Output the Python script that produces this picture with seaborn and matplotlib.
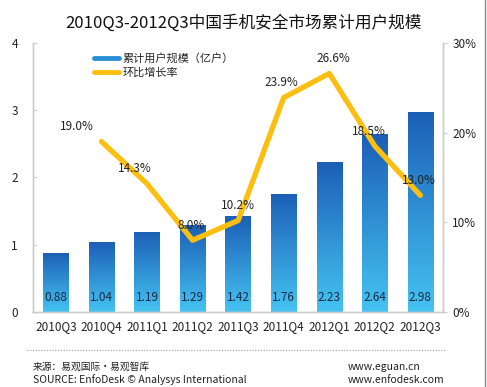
import numpy as np
import pandas as pd
import matplotlib
matplotlib.use("Agg")
import matplotlib.pyplot as plt
import seaborn as sns
from matplotlib.colors import LinearSegmentedColormap
from matplotlib.lines import Line2D

sns.set_style("white")
plt.rcParams['font.family'] = ['Noto Sans CJK SC', 'DejaVu Sans']

quarters = ["2010Q3", "2010Q4", "2011Q1", "2011Q2", "2011Q3",
            "2011Q4", "2012Q1", "2012Q2", "2012Q3"]
users = [0.88, 1.04, 1.19, 1.29, 1.42, 1.76, 2.23, 2.64, 2.98]
growth = [np.nan, 19.0, 14.3, 8.0, 10.2, 23.9, 26.6, 18.5, 13.0]

df = pd.DataFrame({"quarter": quarters, "users": users, "growth": growth})

fig = plt.figure(figsize=(4.87, 3.87), dpi=100)
ax = fig.add_axes([0.068, 0.194, 0.842, 0.695])

sns.barplot(data=df, x="quarter", y="users", ax=ax, width=0.56, color="#2a8fd8")

# gradient fill for bars
cmap = LinearSegmentedColormap.from_list("bl", ["#45c3f2", "#1c5fb6"])
grad = np.linspace(0, 1, 256).reshape(-1, 1)
for p in ax.patches:
    x0, y0 = p.get_x(), p.get_y()
    w, h = p.get_width(), p.get_height()
    p.set_facecolor("none")
    p.set_edgecolor("none")
    im = ax.imshow(grad, extent=[x0, x0 + w, y0, y0 + h], origin="lower",
                   cmap=cmap, aspect="auto", zorder=2)
    im.set_clip_path(p)

for i, v in enumerate(users):
    ax.text(i, 0.22, f"{v:.2f}", ha="center", va="center", fontsize=8.5,
            color="#1a2a44", zorder=4)

ax.set_xlim(-0.5, len(quarters) - 0.5)
ax.set_ylim(0, 4)
ax.set_yticks([0, 1, 2, 3, 4])
ax.set_xlabel("")
ax.set_ylabel("")
ax.tick_params(axis="x", length=0, labelsize=8.5, pad=6, colors="#222222")
ax.tick_params(axis="y", length=3, direction="in", labelsize=8.5, pad=11,
               colors="#222222", color="#cccccc")

ax2 = ax.twinx()
sns.lineplot(x=np.arange(len(quarters)), y=df["growth"], ax=ax2,
             color="#fcbf0f", linewidth=3.8, zorder=3)
ax2.set_ylim(0, 30)
ax2.set_yticks([0, 10, 20, 30])
ax2.set_yticklabels(["0%", "10%", "20%", "30%"])
ax2.set_ylabel("")
ax2.tick_params(axis="y", length=3, direction="out", labelsize=8.5,
                colors="#222222", color="#cccccc")

label_dx = [0, -18, -9, -1, 0, -2, 3, -4, -1]
for i, g in enumerate(growth):
    if np.isnan(g):
        continue
    ax2.annotate(f"{g:.1f}%", (i, g), xytext=(label_dx[i], 6),
                 textcoords="offset points", ha="center", va="bottom",
                 fontsize=8.5, color="#222222")

for a in (ax, ax2):
    a.spines["top"].set_visible(False)
    for side in ("left", "right", "bottom"):
        a.spines[side].set_color("#cccccc")
        a.spines[side].set_linewidth(1.0)

handles = [Line2D([], [], color="#2a8fd8", linewidth=3.5),
           Line2D([], [], color="#fcbf0f", linewidth=3.5)]
ax2.legend(handles, ["累计用户规模（亿户）", "环比增长率"], loc="upper left",
           bbox_to_anchor=(0.125, 1.0), frameon=False, fontsize=8,
           handlelength=2.2, handletextpad=0.3, labelspacing=0.3)

fig.text(0.5, 0.94, "2010Q3-2012Q3中国手机安全市场累计用户规模",
         ha="center", va="center", fontsize=12, color="#111111")

fig.add_artist(Line2D([0.055, 0.915], [0.095, 0.095], color="#999999",
                      linewidth=0.8, linestyle=(0, (1, 1.5))))
fig.text(0.068, 0.052, "来源：易观国际·易观智库", fontsize=7, color="#222222",
         va="center")
fig.text(0.068, 0.018, "SOURCE: EnfoDesk © Analysys International", fontsize=7.5,
         color="#222222", va="center")
fig.text(0.713, 0.052, "www.eguan.cn", fontsize=7.5, color="#222222", va="center")
fig.text(0.713, 0.018, "www.enfodesk.com", fontsize=7.5, color="#222222",
         va="center")
fig.add_artist(Line2D([0.995, 0.995], [0, 1], color="#888888", linewidth=1.0))

fig.savefig("out.png", dpi=100)
